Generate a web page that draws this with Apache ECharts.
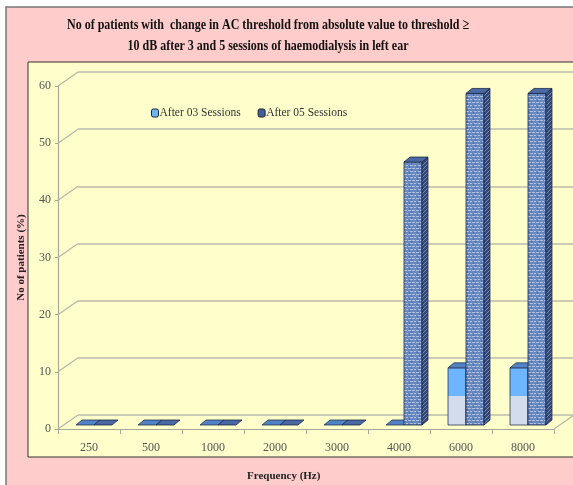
<!DOCTYPE html>
<html><head><meta charset="utf-8">
<script src="https://cdn.jsdelivr.net/npm/echarts@6/dist/echarts.min.js"></script>
<style>html,body{margin:0;padding:0;background:#fff}#c{width:573px;height:485px}</style>
</head><body><div id="c"></div>
<script>
var categories = ['250','500','1000','2000','3000','4000','6000','8000'];
var after03 = [0,0,0,0,0,0,10,10];
var after05 = [0,0,0,0,0,46,58,58];
var yTicks = [0,10,20,30,40,50,60];
var seriesNames = ['After 03 Sessions','After 05 Sessions'];
var titleLines = ['No of patients with  change in AC threshold from absolute value to threshold ≥',
                  '10 dB after 3 and 5 sessions of haemodialysis in left ear'];

var FONT = '"Liberation Serif","Times New Roman",serif';
var DX = 5, DY = -4, SX = 6, SY = -5;

function makePattern(){
  var c = document.createElement('canvas'); c.width = 8; c.height = 6;
  var g = c.getContext('2d');
  g.fillStyle = '#6888C0'; g.fillRect(0,0,8,6);
  g.fillStyle = 'rgba(215,226,246,0.65)';
  g.fillRect(0,0,3,1); g.fillRect(4,0,3,1);
  g.fillRect(2,3,3,1); g.fillRect(6,3,2,1);
  g.fillStyle = 'rgba(45,65,115,0.4)';
  g.fillRect(3,1,1,2); g.fillRect(1,4,1,2);
  return c;
}
function makeHatch(){
  var c = document.createElement('canvas'); c.width = 4; c.height = 4;
  var g = c.getContext('2d');
  g.fillStyle = '#34497A'; g.fillRect(0,0,4,4);
  g.fillStyle = '#7388B8';
  g.fillRect(0,3,1,1); g.fillRect(1,2,1,1); g.fillRect(2,1,1,1); g.fillRect(3,0,1,1);
  return c;
}
var pat = makePattern(), hatch = makeHatch();

function barRender(which){
  return function(params, api){
    var cat = api.value(0), v = api.value(1);
    var base = api.coord([cat, 0]), top = api.coord([cat, v]);
    var bw = api.size([1,0])[0] * 0.29;
    var cx = base[0] + DX;
    var x0 = which === 0 ? cx - bw : cx, x1 = x0 + bw;
    var yb = base[1] + DY, yt = top[1] + DY;
    var front, side, topc, stroke;
    if (which === 0){
      front = new echarts.graphic.LinearGradient(0,0,0,1,[
        {offset:0,color:'#6DB5FF'},{offset:0.5,color:'#6DB5FF'},
        {offset:0.5,color:'#D3DCEC'},{offset:1,color:'#D3DCEC'}]);
      side = '#4A78B8'; topc = '#4F82C6'; stroke = '#2a3550';
    } else {
      front = {image: pat, repeat: 'repeat'};
      side = {image: hatch, repeat: 'repeat'}; topc = '#4A69A4'; stroke = '#1b2742';
    }
    var ch = [];
    if (v > 0){
      ch.push({type:'rect', shape:{x:x0,y:yt,width:bw,height:yb-yt},
        style:{fill:front, stroke:stroke, lineWidth:0.8}});
      ch.push({type:'polygon', shape:{points:[[x1,yt],[x1+SX,yt+SY],[x1+SX,yb+SY],[x1,yb]]},
        style:{fill:side, stroke:stroke, lineWidth:0.8}});
    }
    ch.push({type:'polygon', shape:{points:[[x0,yt],[x1,yt],[x1+SX,yt+SY],[x0+SX,yt+SY]]},
      style:{fill:topc, stroke:stroke, lineWidth:0.8}});
    return {type:'group', children:ch};
  };
}

function diagRender(params, api){
  var v = api.value(0);
  var cs = params.coordSys;
  var p = api.coord([0, v]);
  var ch = [{type:'line', shape:{x1:cs.x, y1:p[1], x2:cs.x+20, y2:p[1]-14},
    style:{stroke:'#B5B5A5', lineWidth:1.2}}];
  if (v === 0){
    ch.push({type:'line', shape:{x1:cs.x+cs.width, y1:p[1], x2:cs.x+cs.width+20, y2:p[1]-14},
      style:{stroke:'#B5B5A5', lineWidth:1.2}});
  }
  return {type:'group', children:ch};
}

var chart = echarts.init(document.getElementById('c'), null, {renderer:'canvas'});
chart.setOption({
  animation:false,
  backgroundColor:'#ffffff',
  textStyle:{fontFamily:FONT},
  graphic:[
    {type:'rect', z:-10, shape:{x:6,y:7,width:570,height:480}, style:{fill:'#FFCCCC', stroke:'#777', lineWidth:1.5}},
    {type:'rect', z:-9, shape:{x:28,y:62,width:548,height:395}, style:{fill:'#FFFFCC', stroke:'#333', lineWidth:1}},
    {type:'text', z:5, left:247, top:471, style:{text:'Frequency (Hz)', font:'bold 11px '+FONT, fill:'#222'}},
    {type:'text', z:5, x:268, y:25, scaleX:0.8, style:{text:titleLines[0], font:'bold 15px '+FONT, fill:'#111', align:'center', verticalAlign:'middle'}},
    {type:'text', z:5, x:268, y:46, scaleX:0.8, style:{text:titleLines[1], font:'bold 15px '+FONT, fill:'#111', align:'center', verticalAlign:'middle'}}
  ],
  legend:{left:151, top:107, padding:0, itemWidth:7, itemHeight:8, itemGap:17,
    textStyle:{fontFamily:FONT, fontSize:11.5, color:'#333', padding:[0,0,0,-4]},
    data:[{name:seriesNames[0], itemStyle:{color:'#6DB5FF', borderColor:'#222', borderWidth:1}},
          {name:seriesNames[1], itemStyle:{color:'#3F5FA0', borderColor:'#222', borderWidth:1}}]},
  grid:[
    {left:58, right:19, top:86, bottom:56},
    {left:78, right:-1, top:72, bottom:70}
  ],
  xAxis:[
    {type:'category', gridIndex:0, data:categories,
      axisLine:{lineStyle:{color:'#A8A898', width:1.2}},
      axisTick:{show:true, alignWithLabel:false, length:5, lineStyle:{color:'#A8A898'}},
      axisLabel:{fontFamily:FONT, fontSize:12, color:'#555', margin:13}},
    {type:'category', gridIndex:1, data:categories, show:false}
  ],
  yAxis:[
    {type:'value', gridIndex:0, min:0, max:60, interval:10,
      name:'No of patients (%)', nameLocation:'middle', nameGap:31, nameRotate:90,
      nameTextStyle:{fontFamily:FONT, fontWeight:'bold', fontSize:11, color:'#222'},
      axisLine:{show:true, lineStyle:{color:'#A8A898', width:1.2}},
      axisTick:{show:true, length:3, lineStyle:{color:'#A8A898'}},
      splitLine:{show:false},
      axisLabel:{fontFamily:FONT, fontSize:12, color:'#555', margin:7}},
    {type:'value', gridIndex:1, min:0, max:60, interval:10,
      axisLine:{show:false}, axisTick:{show:false}, axisLabel:{show:false},
      splitLine:{show:true, lineStyle:{color:'#BDBDB0', width:1.5}}}
  ],
  series:[
    {type:'custom', name:'diag', xAxisIndex:0, yAxisIndex:0, renderItem:diagRender,
      data:yTicks.map(function(t){return [t];}), encode:{x:-1,y:0}, silent:true, z:1},
    {type:'custom', name:seriesNames[0], xAxisIndex:0, yAxisIndex:0, renderItem:barRender(0),
      itemStyle:{color:'#6DB5FF'}, data:after03.map(function(v,i){return [i,v];}),
      encode:{x:0,y:1}, z:3},
    {type:'custom', name:seriesNames[1], xAxisIndex:0, yAxisIndex:0, renderItem:barRender(1),
      itemStyle:{color:'#3F5FA0'}, data:after05.map(function(v,i){return [i,v];}),
      encode:{x:0,y:1}, z:4}
  ]
});
</script></body></html>
